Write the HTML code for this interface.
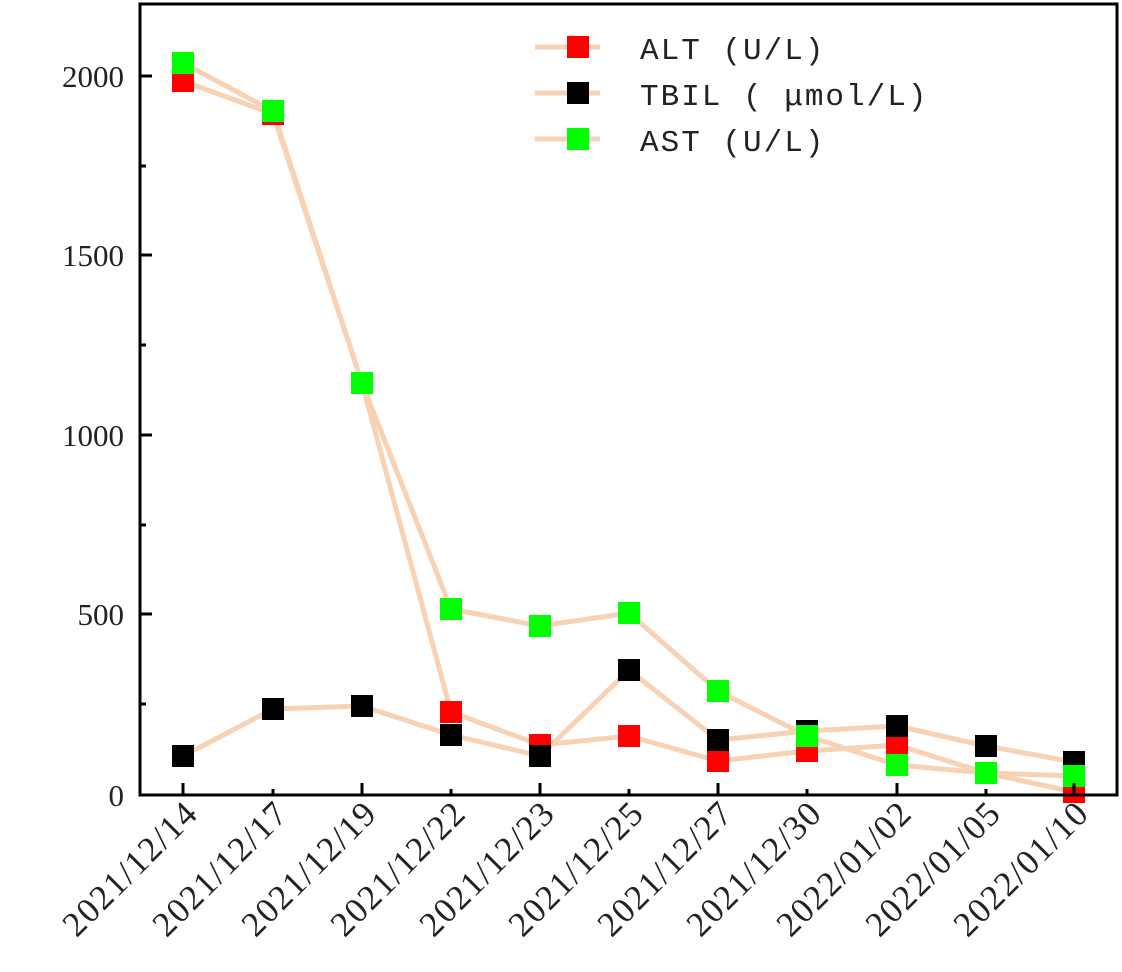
<!DOCTYPE html>
<html><head><meta charset="utf-8"><style>body{margin:0;background:#fff}</style></head><body>
<svg width="1122" height="967" xmlns="http://www.w3.org/2000/svg">
<rect width="1122" height="967" fill="#fff"/>
<g fill="none" stroke="#f8d2b4" stroke-width="5" stroke-linejoin="round">
<polyline points="183,81 273,114 362,383 451,712 540,745 629,736 718,761 807,751 897,745 986,773 1074,792"/>
<polyline points="183,756 273,709 362,706 451,735 540,756 629,670 718,740 807,731 897,726 986,746 1074,762"/>
<polyline points="183,63 273,111 362,383 451,609 540,626 629,613 718,691 807,736 897,765 986,773 1074,776"/>
</g>
<g fill="#f00">
<rect x="172" y="70" width="22" height="22"/><rect x="262" y="103" width="22" height="22"/><rect x="440" y="701" width="22" height="22"/><rect x="529" y="734" width="22" height="22"/><rect x="618" y="725" width="22" height="22"/><rect x="707" y="750" width="22" height="22"/><rect x="796" y="740" width="22" height="22"/><rect x="886" y="734" width="22" height="22"/><rect x="975" y="762" width="22" height="22"/><rect x="1063" y="781" width="22" height="22"/>
</g>
<g fill="#000">
<rect x="172" y="745" width="22" height="22"/><rect x="262" y="698" width="22" height="22"/><rect x="351" y="695" width="22" height="22"/><rect x="440" y="724" width="22" height="22"/><rect x="529" y="745" width="22" height="22"/><rect x="618" y="659" width="22" height="22"/><rect x="707" y="729" width="22" height="22"/><rect x="796" y="720" width="22" height="22"/><rect x="886" y="715" width="22" height="22"/><rect x="975" y="735" width="22" height="22"/><rect x="1063" y="751" width="22" height="22"/>
</g>
<g fill="#0f0">
<rect x="172" y="52" width="22" height="22"/><rect x="262" y="100" width="22" height="22"/><rect x="351" y="372" width="22" height="22"/><rect x="440" y="598" width="22" height="22"/><rect x="529" y="615" width="22" height="22"/><rect x="618" y="602" width="22" height="22"/><rect x="707" y="680" width="22" height="22"/><rect x="796" y="725" width="22" height="22"/><rect x="886" y="754" width="22" height="22"/><rect x="975" y="762" width="22" height="22"/><rect x="1063" y="765" width="22" height="22"/>
</g>
<rect x="140" y="4" width="977" height="791" fill="none" stroke="#000" stroke-width="3"/>
<g stroke="#000" stroke-width="3">
<path d="M140 76h12M140 255h12M140 435h12M140 614h12M140 166h6M140 345h6M140 525h6M140 704h6"/>
<path d="M183 795v-12M273 795v-6M362 795v-12M451 795v-6M540 795v-12M629 795v-6M718 795v-12M807 795v-6M897 795v-12M986 795v-6M1074 795v-12"/>
</g>
<g font-family="Liberation Serif, serif" font-size="31" fill="#222" text-anchor="end">
<text x="124" y="87">2000</text><text x="124" y="266">1500</text><text x="124" y="446">1000</text><text x="124" y="625">500</text><text x="124" y="806">0</text>
</g>
<g font-family="Liberation Serif, serif" font-size="35" fill="#222" text-anchor="end" letter-spacing="1.5">
<text transform="translate(200,815) rotate(-45)">2021/12/14</text>
<text transform="translate(290,815) rotate(-45)">2021/12/17</text>
<text transform="translate(379,815) rotate(-45)">2021/12/19</text>
<text transform="translate(468,815) rotate(-45)">2021/12/22</text>
<text transform="translate(557,815) rotate(-45)">2021/12/23</text>
<text transform="translate(646,815) rotate(-45)">2021/12/25</text>
<text transform="translate(735,815) rotate(-45)">2021/12/27</text>
<text transform="translate(824,815) rotate(-45)">2021/12/30</text>
<text transform="translate(914,815) rotate(-45)">2022/01/02</text>
<text transform="translate(1003,815) rotate(-45)">2022/01/05</text>
<text transform="translate(1091,815) rotate(-45)">2022/01/10</text>
</g>
<g stroke="#f8d2b4" stroke-width="5"><path d="M535 47h65M535 93h65M535 139h65"/></g>
<rect x="567" y="36" width="22" height="22" fill="#f00"/>
<rect x="567" y="82" width="22" height="22" fill="#000"/>
<rect x="567" y="128" width="22" height="22" fill="#0f0"/>
<g font-family="Liberation Mono, 'Noto Sans CJK SC', monospace" font-size="31" fill="#222" letter-spacing="2">
<text x="640" y="59">ALT (U/L)</text>
<text x="640" y="105">TBIL ( μmol/L)</text>
<text x="640" y="151">AST (U/L)</text>
</g>
</svg>
</body></html>
